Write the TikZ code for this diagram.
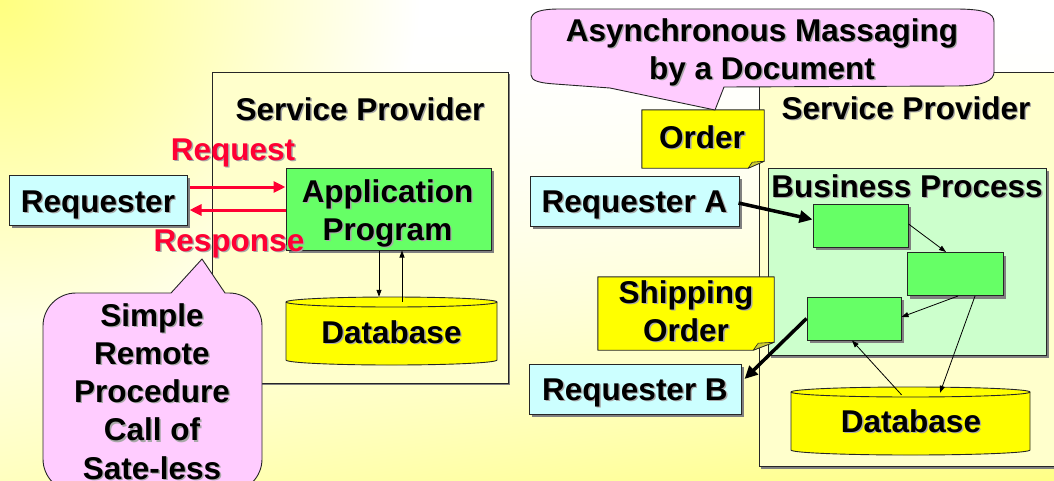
\documentclass[tikz,border=0pt]{standalone}
\usepackage{fontspec}
\setmainfont{Liberation Sans}
\usetikzlibrary{arrows.meta,shadows}

\definecolor{provfill}{HTML}{FFFFCC}
\definecolor{reqfill}{HTML}{CCFFFF}
\definecolor{appfill}{HTML}{66FF66}
\definecolor{procfill}{HTML}{CCFFCC}
\definecolor{dbfill}{HTML}{FFFF00}
\definecolor{notecol}{HTML}{FFFF00}
\definecolor{foldcol}{HTML}{CCCC33}
\definecolor{callfill}{HTML}{FFCCFF}
\definecolor{msgred}{HTML}{FF0033}
\definecolor{txtshadow}{HTML}{A8A8A8}
\definecolor{shadowgray}{HTML}{808080}

% slide wash: yellow glow from the top left corner plus a yellow rise along the bottom
\pgfdeclarefunctionalshading{slidewash}{\pgfpoint{-50bp}{-50bp}}{\pgfpoint{50bp}{50bp}}{}{
  25 exch sub 50 div
  exch 25 add 50 div
  2 copy
  1054 mul dup mul
  exch 480 mul dup mul add sqrt 420 div 1 exch sub
  dup 0 lt {pop 0} if
  3 1 roll
  0.45 mul 0.5 add
  exch dup mul mul
  2 copy lt {exch} if pop
  dup 1 gt {pop 1} if
  0.5 mul 1 exch sub
  1 exch 1 exch
}

% text with a soft offset shadow
\newcommand\shtxt[1]{\leavevmode\rlap{\kern1.4pt\raisebox{-1.4pt}{\textcolor{txtshadow}{#1}}}#1}
% centred lines; the box baseline is the baseline of the first line
\newcommand\textlines[2][38]{\vtop{\baselineskip=#1pt\relax\lineskiplimit=-100pt\halign{\hfil##\hfil\cr#2\crcr}}}
% database drum: left x, right x, top y, bottom y, half width
\newcommand\drum[5]{%
  \filldraw[dbshape] (#1,#3) -- (#1,#4)
    arc[start angle=180,end angle=360,x radius=#5pt,y radius=5pt] -- (#2,#3)
    arc[start angle=0,end angle=180,x radius=#5pt,y radius=5pt] -- cycle;
  \draw[dbshape,fill=none] (#1,#3) arc[start angle=180,end angle=360,x radius=#5pt,y radius=5pt];
}

\begin{document}
\begin{tikzpicture}[x=1pt,y=-1pt,
  lbl/.style={font=\fontsize{31.5}{38}\selectfont\bfseries, inner sep=0pt, anchor=base},
  box/.style={draw=black!85, line width=1pt, inner sep=0pt},
  boxshadow/.style={drop shadow={shadow xshift=3pt, shadow yshift=-3pt, fill=shadowgray, opacity=1}},
  panelshadow/.style={drop shadow={shadow xshift=2pt, shadow yshift=-2pt, fill=shadowgray, opacity=1}},
  dbshape/.style={fill=dbfill, draw=black!85, line width=0.9pt},
  notebody/.style={fill=notecol, draw=black!85, line width=0.9pt, line join=round},
  foldpart/.style={fill=foldcol, draw=black!85, line width=0.6pt, line join=round},
  bubble/.style={fill=callfill, draw=black!85, line width=0.9pt, line join=round},
  redarrow/.style={draw=msgred, line width=3pt, -{Triangle[length=12pt,width=11pt]}},
  thinarrow/.style={draw=black, line width=0.8pt, -{Triangle[length=7pt,width=5pt]}},
  heavyarrow/.style={draw=black, line width=3.5pt, -{Triangle[length=13pt,width=12pt]}},
]
\useasboundingbox (0,0) rectangle (1054,480);
\clip (0,0) rectangle (1054,480);

% background
\shade[shading=slidewash] (0,0) rectangle (1054,480);

% ---------- synchronous call ----------
\node[box, panelshadow, fill=provfill, minimum width=296pt, minimum height=311pt] (provL) at (360,227.5) {};
\node[lbl] (provLtitle) at (360,120.5) {\shtxt{Service Provider}};

\node[box, boxshadow, fill=reqfill, minimum width=178pt, minimum height=50pt] (req) at (98,200) {};
\node[lbl] (reqText) at (98,212) {\shtxt{Requester}};

\node[box, boxshadow, fill=appfill, minimum width=205pt, minimum height=82pt] (app) at (388.5,209) {};
\node[lbl] (appText) at (387.5,202) {\textlines{\shtxt{Application}\cr\shtxt{Program}}};

\drum{286}{497}{302}{360}{105.5}
\node[inner sep=0pt, minimum width=211pt, minimum height=68pt] (dbL) at (391.5,331) {};
\node[lbl] (dbLText) at (391.5,343) {\shtxt{Database}};

\draw[thinarrow] ([xshift=-9.5pt]app.south) -- ([xshift=-9.5pt]app.south |- dbL.north);
\draw[thinarrow] ([xshift=13.5pt,yshift=-5pt]app.south |- dbL.north) -- ([xshift=13.5pt]app.south);

\draw[redarrow] ([xshift=2pt,yshift=13pt]req.east) -- ([yshift=13pt]req.east -| app.west);
\draw[redarrow] ([yshift=-10pt]req.east -| app.west) -- ([xshift=2pt,yshift=-10pt]req.east);
\node[lbl, text=msgred] (requestLbl) at (233,160) {\shtxt{Request}};
\node[lbl, text=msgred] (responseLbl) at (229,251) {\shtxt{Response}};

\filldraw[bubble] (76,293) -- (171,293) -- (202,259) -- (225,293) -- (229,293)
  arc[start angle=90,end angle=0,radius=33pt] -- (262,459)
  arc[start angle=0,end angle=-90,radius=33pt] -- (76,492)
  arc[start angle=270,end angle=180,radius=33pt] -- (43,326)
  arc[start angle=180,end angle=90,radius=33pt] -- cycle;
\node[lbl] (rpcText) at (152,326) {\textlines[38.25]{\shtxt{Simple}\cr\shtxt{Remote}\cr\shtxt{Procedure}\cr\shtxt{Call of}\cr\shtxt{Sate-less}}};

% ---------- asynchronous messaging ----------
\node[box, panelshadow, fill=provfill, minimum width=316pt, minimum height=394.5pt] (provR) at (917,269.25) {};
\node[lbl] (provRtitle) at (906,119) {\shtxt{Service Provider}};

\node[box, boxshadow, fill=procfill, minimum width=278pt, minimum height=187pt] (proc) at (907,261.5) {};
\node[lbl] (procTitle) at (907,197) {\shtxt{Business Process}};

\node[box, boxshadow, fill=appfill, minimum width=95pt, minimum height=43pt] (stepA) at (860.5,225.5) {};
\node[box, boxshadow, fill=appfill, minimum width=96pt, minimum height=43pt] (stepB) at (955,274) {};
\node[box, boxshadow, fill=appfill, minimum width=94pt, minimum height=43pt] (stepC) at (854,318.5) {};

\drum{791}{1030}{392}{450}{119.5}
\node[inner sep=0pt, minimum width=239pt, minimum height=68pt] (dbR) at (910.5,421) {};
\node[lbl] (dbRText) at (911,432.5) {\shtxt{Database}};

\draw[thinarrow] ([yshift=1.5pt]stepA.east) -- ([xshift=-9pt]stepB.north);
\draw[thinarrow] ([xshift=3pt]stepB.south) -- ([yshift=1.5pt]stepC.east);
\draw[thinarrow] ([xshift=20pt]stepB.south) -- ([xshift=29.5pt,yshift=-6pt]dbR.north);
\draw[thinarrow] ([xshift=-9pt,yshift=-8pt]dbR.north) -- ([xshift=-2pt]stepC.south);

\node[box, boxshadow, fill=reqfill, minimum width=209pt, minimum height=50pt] (reqA) at (634.5,201) {};
\node[lbl] (reqAText) at (634.5,212.5) {\shtxt{Requester A}};
\node[box, boxshadow, fill=reqfill, minimum width=212pt, minimum height=50pt] (reqB) at (635,389) {};
\node[lbl] (reqBText) at (635,400.5) {\shtxt{Requester B}};

% order document
\node[inner sep=0pt, minimum width=122pt, minimum height=58pt] (order) at (703,139) {};
\filldraw[notebody] (order.north west) -- (order.north east) -- ([yshift=7pt]order.south east)
  -- ([xshift=-16pt]order.south east) -- (order.south west) -- cycle;
\filldraw[foldpart] ([xshift=-16pt]order.south east) -- ([yshift=7pt]order.south east)
  -- ([xshift=-12pt,yshift=6pt]order.south east) -- cycle;
\node[lbl] (orderText) at (702,148.5) {\shtxt{Order}};

% shipping order document
\node[inner sep=0pt, minimum width=176pt, minimum height=73pt] (ship) at (686,313.5) {};
\filldraw[notebody] (ship.north west) -- (ship.north east) -- ([yshift=8pt]ship.south east)
  -- ([xshift=-21pt]ship.south east) -- (ship.south west) -- cycle;
\filldraw[foldpart] ([xshift=-21pt]ship.south east) -- ([yshift=8pt]ship.south east)
  -- ([xshift=-16pt,yshift=7pt]ship.south east) -- cycle;
\node[lbl] (shipText) at (686,303.5) {\textlines{\shtxt{Shipping}\cr\shtxt{Order}}};

\draw[heavyarrow] ([xshift=-1pt,yshift=-2pt]reqA.east) -- ([yshift=6pt]stepA.west);
\draw[heavyarrow] (stepC.west) -- ([xshift=3pt,yshift=10pt]reqB.east);

% message bubble
\filldraw[bubble] (531,20) -- (531,75) .. controls (531,81) and (540,83) .. (555,84)
  -- (610,88) -- (715,110) -- (724,87) -- (955,86)
  .. controls (985,86) and (994,80) .. (994,72) -- (994,22)
  .. controls (994,13) and (985,9) .. (955,9) -- (560,9)
  .. controls (540,9) and (531,12) .. (531,20) -- cycle;
\node[lbl] (asyncText) at (762,41) {\textlines{\shtxt{Asynchronous Massaging}\cr\shtxt{by a Document}}};
\end{tikzpicture}
\end{document}
